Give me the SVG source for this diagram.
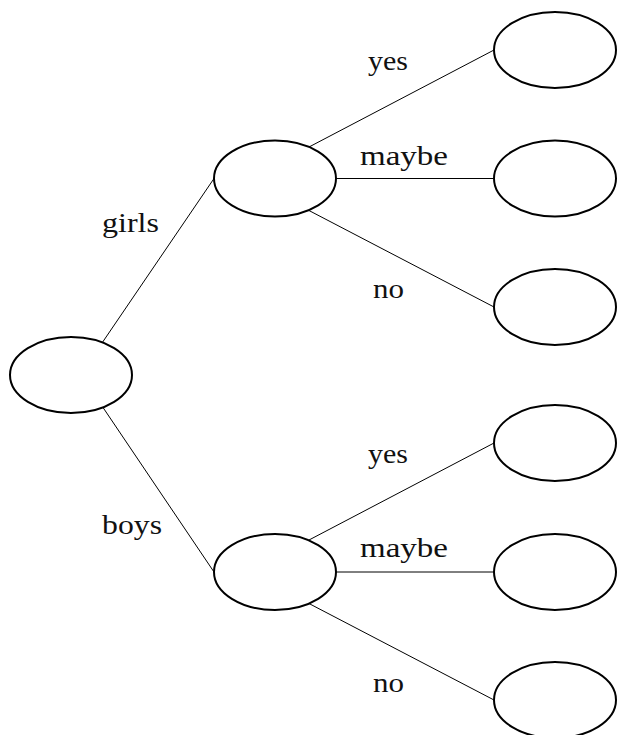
<svg xmlns="http://www.w3.org/2000/svg" width="617" height="735" viewBox="0 0 617 735">
<style>
.node{fill:#fff;stroke:#000;stroke-width:2}
.edge{stroke:#000;stroke-width:1;fill:none}
.lbl{font-size:28px;fill:#111}
</style>
<rect width="617" height="735" fill="#fff"/>
<g id="connectors">
<line class="edge" x1="102" y1="343" x2="214" y2="178.5"/>
<line class="edge" x1="102" y1="406" x2="214" y2="572"/>
<line class="edge" x1="309" y1="147" x2="494" y2="50"/>
<line class="edge" x1="336" y1="178.5" x2="494" y2="178.5"/>
<line class="edge" x1="308" y1="210" x2="494" y2="307"/>
<line class="edge" x1="309" y1="540" x2="494" y2="443"/>
<line class="edge" x1="336" y1="572" x2="494" y2="572"/>
<line class="edge" x1="308" y1="603" x2="494" y2="700"/>
<g font-family="'Liberation Serif', 'DejaVu Serif', serif">
<text class="lbl" x="102" y="232" textLength="57" lengthAdjust="spacingAndGlyphs">girls</text>
<text class="lbl" x="102" y="534" textLength="60" lengthAdjust="spacingAndGlyphs">boys</text>
<text class="lbl" x="368" y="70" textLength="40" lengthAdjust="spacingAndGlyphs">yes</text>
<text class="lbl" x="360" y="165" textLength="88" lengthAdjust="spacingAndGlyphs">maybe</text>
<text class="lbl" x="373" y="298" textLength="31" lengthAdjust="spacingAndGlyphs">no</text>
<text class="lbl" x="368" y="463" textLength="40" lengthAdjust="spacingAndGlyphs">yes</text>
<text class="lbl" x="360" y="557" textLength="88" lengthAdjust="spacingAndGlyphs">maybe</text>
<text class="lbl" x="373" y="692" textLength="31" lengthAdjust="spacingAndGlyphs">no</text>
</g>
</g>
<g id="root"><ellipse class="node" cx="71" cy="375" rx="61" ry="38"/></g>
<g id="girls"><ellipse class="node" cx="275" cy="178.5" rx="61" ry="38"/></g>
<g id="boys"><ellipse class="node" cx="275" cy="572" rx="61" ry="38"/></g>
<g id="girls-yes"><ellipse class="node" cx="555" cy="50" rx="61" ry="38"/></g>
<g id="girls-maybe"><ellipse class="node" cx="555" cy="178.5" rx="61" ry="38"/></g>
<g id="girls-no"><ellipse class="node" cx="555" cy="307" rx="61" ry="38"/></g>
<g id="boys-yes"><ellipse class="node" cx="555" cy="443" rx="61" ry="38"/></g>
<g id="boys-maybe"><ellipse class="node" cx="555" cy="572" rx="61" ry="38"/></g>
<g id="boys-no"><ellipse class="node" cx="555" cy="700" rx="61" ry="38"/></g>
</svg>
